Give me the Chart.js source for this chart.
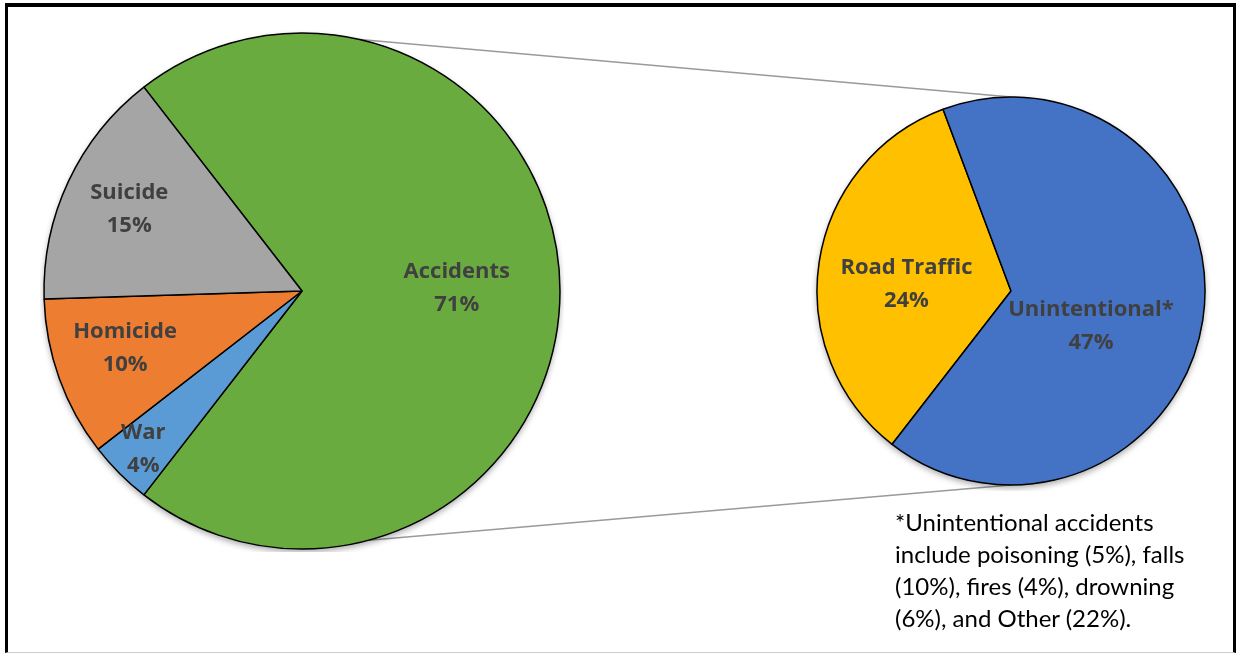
<!DOCTYPE html>
<html>
<head>
<meta charset="utf-8">
<script src="https://cdn.jsdelivr.net/npm/chart.js@4"></script>
<style>
body { margin: 0; background: #fff; }
#wrap { position: relative; width: 1237px; height: 654px; overflow: hidden; background: #fff; }
#frame { position: absolute; left: 5px; top: 3px; width: 1225px; height: 645px; border-top: 4px solid #000; border-left: 3px solid #000; border-right: 3px solid #000; border-bottom: 1px solid #ccc; }
#lines { position: absolute; left: 0; top: 0; }
#leftBox { position: absolute; left: 40px; top: 30px; width: 524px; height: 522px; }
#rightBox { position: absolute; left: 811px; top: 91px; width: 400px; height: 400px; }
#note { position: absolute; left: 895px; top: 506px; font-family: Lato, sans-serif; font-size: 24px; line-height: 32px; color: #000; white-space: nowrap; }
</style>
</head>
<body>
<div id="wrap">
  <div id="frame"></div>
  <canvas id="lines" width="1237" height="654"></canvas>
  <div id="leftBox"><canvas id="leftPie"></canvas></div>
  <div id="rightBox"><canvas id="rightPie"></canvas></div>
  <div id="note">*Unintentional accidents<br>include poisoning (5%), falls<br>(10%), fires (4%), drowning<br>(6%), and Other (22%).</div>
</div>
<script>
const mainLabels = ["Accidents", "War", "Homicide", "Suicide"]
const mainValues = [71, 4, 10, 15]
const mainColors = ["#6aab40", "#5b9bd5", "#ed7d31", "#a5a5a5"]

const subLabels = ["Road Traffic", "Unintentional*"]
const subValues = [24, 47]
const subColors = ["#ffc000", "#4472c4"]

// label spots: fraction of radius, angle shift in degrees
const mainPlace = [{r: 0.6, a: -1}, {r: 0.87, a: 0}, {r: 0.72, a: 2}, {r: 0.74, a: 0}]
const subPlace = [{r: 0.54, a: -5}, {r: 0.45, a: 15}]

const pieShadow = {
    id: 'pieShadow',
    beforeDatasetsDraw(chart) {
        const arc = chart.getDatasetMeta(0).data[0]
        const ctx = chart.ctx
        ctx.save()
        ctx.shadowColor = 'rgba(0,0,0,0.35)'
        ctx.shadowBlur = 6
        ctx.shadowOffsetY = 3
        ctx.beginPath()
        ctx.arc(arc.x, arc.y, arc.outerRadius, 0, Math.PI * 2)
        ctx.fillStyle = '#fff'
        ctx.fill()
        ctx.restore()
    }
}

const sliceLabels = {
    id: 'sliceLabels',
    afterDatasetsDraw(chart, args, opts) {
        const ctx = chart.ctx
        const values = chart.data.datasets[0].data
        ctx.save()
        ctx.font = 'bold 22px "Open Sans", sans-serif'
        ctx.fillStyle = '#404040'
        ctx.textAlign = 'center'
        ctx.textBaseline = 'middle'
        chart.getDatasetMeta(0).data.forEach((arc, i) => {
            const p = opts.place[i]
            const mid = (arc.startAngle + arc.endAngle) / 2 + p.a * Math.PI / 180
            const x = arc.x + Math.cos(mid) * arc.outerRadius * p.r
            const y = arc.y + Math.sin(mid) * arc.outerRadius * p.r
            ctx.fillText(chart.data.labels[i], x, y - 16.5)
            ctx.fillText(values[i] + '%', x, y + 16.5)
        })
        ctx.restore()
    }
}

function makePie(id, labels, values, colors, radius, rotation, place) {
    return new Chart(document.getElementById(id), {
        type: 'pie',
        data: {
            labels: labels,
            datasets: [{
                data: values,
                backgroundColor: colors,
                borderColor: '#000',
                borderWidth: 1.5
            }]
        },
        options: {
            responsive: true,
            maintainAspectRatio: false,
            animation: false,
            radius: radius,
            rotation: rotation,
            layout: { padding: 0 },
            plugins: {
                legend: { display: false },
                tooltip: { enabled: false },
                sliceLabels: { place: place }
            }
        },
        plugins: [pieShadow, sliceLabels]
    })
}

const mainTotal = mainValues.reduce((a, b) => a + b, 0)
const leftChart = makePie('leftPie', mainLabels, mainValues, mainColors, 258, 90 - mainValues[0] / mainTotal * 180, mainPlace)
const rightChart = makePie('rightPie', subLabels, subValues, subColors, 194, -142.2, subPlace)

// connector lines between the two pies
const big = leftChart.getDatasetMeta(0).data[0]
const small = rightChart.getDatasetMeta(0).data[0]
const lx = 40, ly = 30, rx = 811, ry = 91
function edge(cx, cy, r, deg) {
    const t = (deg - 90) * Math.PI / 180
    return [cx + Math.cos(t) * r, cy + Math.sin(t) * r]
}
const lc = document.getElementById('lines').getContext('2d')
lc.strokeStyle = '#9a9a9a'
lc.lineWidth = 1.5
const pairs = [[13, 0], [165, 180]]
pairs.forEach(pr => {
    const a = edge(big.x + lx, big.y + ly, big.outerRadius, pr[0])
    const b = edge(small.x + rx, small.y + ry, small.outerRadius, pr[1])
    lc.beginPath()
    lc.moveTo(a[0], a[1])
    lc.lineTo(b[0], b[1])
    lc.stroke()
})
</script>
</body>
</html>
